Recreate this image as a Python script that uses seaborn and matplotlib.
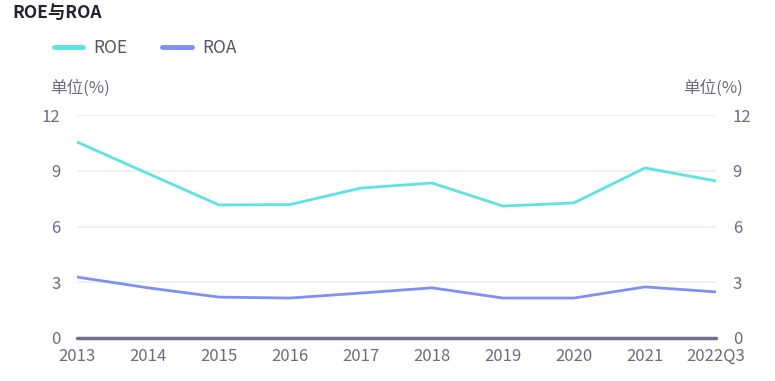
import pandas as pd
import numpy as np
import matplotlib
matplotlib.use("Agg")
import matplotlib.pyplot as plt
import seaborn as sns

# data
periods = ["2013", "2014", "2015", "2016", "2017", "2018", "2019", "2020", "2021", "2022Q3"]
roe = [10.55, 8.85, 7.16, 7.18, 8.07, 8.34, 7.10, 7.27, 9.15, 8.45]
roa = [3.28, 2.70, 2.20, 2.15, 2.42, 2.70, 2.15, 2.15, 2.75, 2.48]
yticks = [0, 3, 6, 9, 12]

df = pd.DataFrame({"idx": np.arange(len(periods)), "ROE": roe, "ROA": roa})
long_df = df.melt(id_vars="idx", var_name="metric", value_name="value")

sns.set_style("white")
plt.rcParams['font.family'] = ['Noto Sans CJK SC', 'DejaVu Sans']

text_color = "#6c6b80"
colors = {"ROE": "#5ee3e3", "ROA": "#7f90f5"}

fig = plt.figure(figsize=(7.75, 3.81), dpi=100)
ax = fig.add_axes([77 / 775, 1 - 338 / 381, (716 - 77) / 775, (338 - 115) / 381])

sns.lineplot(data=long_df, x="idx", y="value", hue="metric", palette=colors,
             linewidth=2, ax=ax, legend=False)

ax.set_xlim(0, len(periods) - 1)
ax.set_ylim(0, 12)
ax.set_yticks(yticks)
ax.set_xticks(df["idx"])
ax.set_xticklabels(periods)
ax.set_xlabel("")
ax.set_ylabel("")
for s in ax.spines.values():
    s.set_visible(False)
ax.grid(axis="y", color="#eef0f6", linewidth=1.5)
ax.axhline(0, color="#726e8c", linewidth=2.5, zorder=3, clip_on=False)
ax.tick_params(axis="both", length=0, labelsize=12, colors=text_color)
ax.tick_params(axis="x", pad=7)
ax.tick_params(axis="y", pad=12)

# right axis mirrors the left
ax2 = ax.twinx()
ax2.set_ylim(0, 12)
ax2.set_yticks(yticks)
for s in ax2.spines.values():
    s.set_visible(False)
ax2.tick_params(axis="y", length=0, labelsize=12, colors=text_color, pad=12)

# unit labels
fig.text(80 / 775, 1 - 88 / 381, "单位(%)", ha="center", va="center", fontsize=12, color=text_color)
fig.text(713 / 775, 1 - 88 / 381, "单位(%)", ha="center", va="center", fontsize=12, color=text_color)

# title
fig.text(12 / 775, 1 - 13 / 381, "ROE与ROA", ha="left", va="center", fontsize=12.5,
         fontweight="bold", color="#222233")

# legend
handles = [plt.Line2D([], [], color=colors[k], linewidth=3.5) for k in ["ROE", "ROA"]]
fig.legend(handles, ["ROE", "ROA"], loc="center left", bbox_to_anchor=(38 / 775, 1 - 48 / 381),
           ncol=2, frameon=False, fontsize=12.5, labelcolor="#555566",
           handlelength=1.7, handletextpad=0.6, columnspacing=2.0)

plt.savefig("out.png", dpi=100)
